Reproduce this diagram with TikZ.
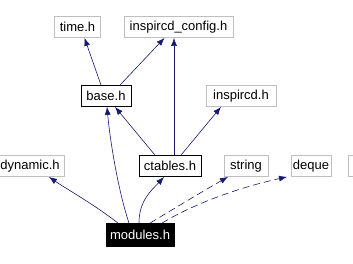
\documentclass[tikz,border=0pt]{standalone}
\usepackage{fontspec}
\setmainfont{Liberation Sans}
\usetikzlibrary{arrows.meta}
\definecolor{edgeblue}{RGB}{25,25,112}
\definecolor{boxgray}{RGB}{191,191,191}
\tikzset{
  file/.style={draw=boxgray, line width=0.8pt, fill=white, minimum height=21pt,
    inner sep=0pt, font=\fontsize{13}{15}\selectfont},
  known/.style={file, draw=black},
  current/.style={file, draw=black, fill=black, text=white, minimum height=23pt},
  dep/.style={draw=edgeblue, line width=0.6pt,
    -{Latex[length=8pt,width=6pt]}},
  soft/.style={dep, dash pattern=on 7pt off 4pt}
}
\begin{document}
\begin{tikzpicture}[x=1pt,y=-1pt]
  \useasboundingbox[fill=white] (0,0) rectangle (353,263);
  \clip (0,0) rectangle (353,263);

  % header files
  \node[file, minimum width=46pt]   (time)     at (77.5,27)    {time.h};
  \node[file, minimum width=109pt]  (config)   at (178.5,27)   {inspircd\_config.h};
  \node[known, minimum width=50pt]  (base)     at (106,96)     {base.h};
  \node[file, minimum width=70pt]   (inspircd) at (241,96)     {inspircd.h};
  \node[file, minimum width=68pt]   (dynamic)  at (30,166)     {dynamic.h};
  \node[known, minimum width=62pt]  (ctables)  at (170,166)    {ctables.h};
  \node[file, minimum width=44pt]   (string)   at (246,166)    {string};
  \node[file, minimum width=40pt]   (deque)    at (311,166)    {deque};
  \node[file, minimum width=44pt]   (more)     at (370,166)    {};
  \node[current, minimum width=68pt] (modules) at (140,235)    {modules.h};

  % includes of base.h
  \draw[dep] ([xshift=-5pt]base.north) -- ([xshift=7pt]time.south);
  \draw[dep] ([xshift=14pt]base.north) -- ([xshift=-14pt]config.south);

  % includes of ctables.h
  \draw[dep] ([xshift=4pt]ctables.north) -- ([xshift=4pt]ctables.north |- config.south);
  \draw[dep] ([xshift=-15pt]ctables.north) -- ([xshift=9pt]base.south);
  \draw[dep] ([xshift=11pt]ctables.north) -- ([xshift=-20pt]inspircd.south);

  % includes of modules.h
  \draw[dep] ([xshift=-22pt]modules.north) .. controls (95,205) and (65,188) .. ([xshift=19pt]dynamic.south);
  \draw[dep] ([xshift=-11pt]modules.north) .. controls (118,190) and (110,140) .. ([xshift=1pt]base.south);
  \draw[dep] ([xshift=-1pt]modules.north) .. controls (139,200) and (152,190) .. ([xshift=-6pt]ctables.south);
  \draw[soft] ([xshift=10pt]modules.north) .. controls (180,205) and (205,190) .. ([xshift=-18pt]string.south);
  \draw[soft] ([xshift=22pt]modules.north) .. controls (200,200) and (250,185) .. ([xshift=-24pt]deque.south);
\end{tikzpicture}
\end{document}
